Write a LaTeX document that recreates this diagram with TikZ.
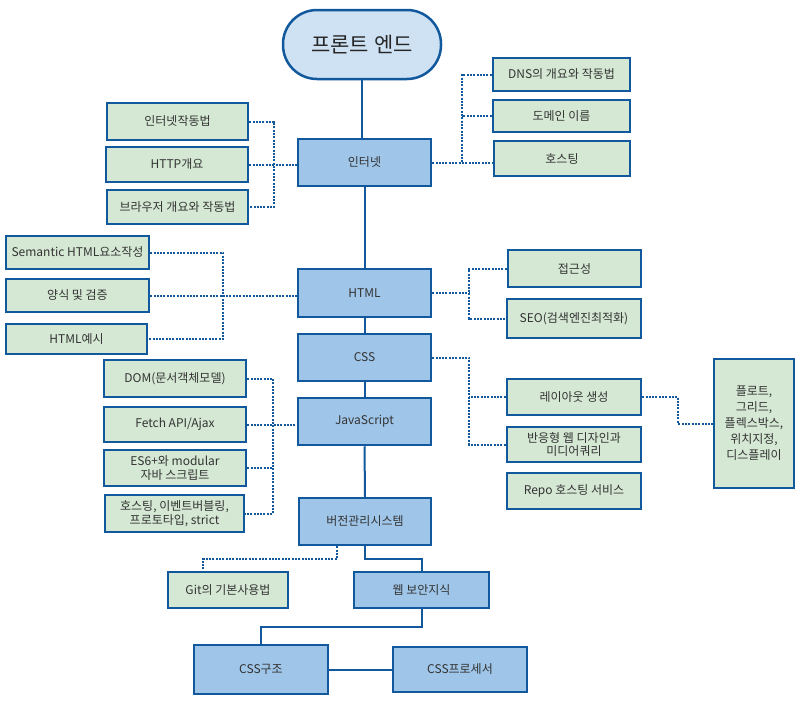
\documentclass[tikz,border=0pt]{standalone}
\usepackage{fontspec}
\setmainfont{Noto Sans CJK KR}
\definecolor{bstroke}{HTML}{11589C}
\definecolor{gfill}{HTML}{D5E8D4}
\definecolor{bfill}{HTML}{9FC5E8}
\definecolor{tfill}{HTML}{CFE2F3}
\definecolor{txt}{HTML}{333333}
\tikzset{
  box/.style={draw=bstroke, line width=2.5pt, text=txt, font=\fontsize{12}{13.5}\selectfont, align=center, inner sep=0pt},
  gbox/.style={box, fill=gfill},
  bbox/.style={box, fill=bfill},
  conn/.style={draw=bstroke, line width=2pt},
  dotc/.style={draw=bstroke, line width=2pt, dash pattern=on 2pt off 1.3pt},
}
\begin{document}
\begin{tikzpicture}[x=1pt,y=-1pt]
\useasboundingbox[fill=white] (0,0) rectangle (806,707);
% title
\node[box, fill=tfill, minimum width=158pt, minimum height=69pt, rounded corners=34pt, font=\fontsize{21}{24}\selectfont, text=black!85] (title) at (362,44.5) {프론트 엔드};
% main column
\node[bbox, minimum width=133pt, minimum height=47pt] (inet) at (364.5,162.5) {인터넷};
\node[bbox, minimum width=133pt, minimum height=48pt] (html) at (364.5,293) {HTML};
\node[bbox, minimum width=133pt, minimum height=47pt] (css) at (364.5,357.5) {CSS};
\node[bbox, minimum width=133pt, minimum height=47pt] (js) at (364.5,421.5) {JavaScript};
\node[bbox, minimum width=132pt, minimum height=47pt] (vcs) at (365,521.5) {버전관리시스템};
\node[bbox, minimum width=135pt, minimum height=36pt] (sec) at (421.5,590) {웹 보안지식};
\node[bbox, minimum width=134pt, minimum height=49pt] (cstr) at (261,669.5) {CSS구조};
\node[bbox, minimum width=134pt, minimum height=45pt] (cproc) at (460,669.5) {CSS프로세서};
% internet right
\node[gbox, minimum width=137pt, minimum height=33pt] (dns) at (561.5,74.5) {DNS의 개요와 작동법};
\node[gbox, minimum width=137pt, minimum height=32pt] (domain) at (561.5,116) {도메인 이름};
\node[gbox, minimum width=136pt, minimum height=35pt] (host) at (562,158.5) {호스팅};
% internet left
\node[gbox, minimum width=141pt, minimum height=37pt] (iw) at (177.5,121.5) {인터넷작동법};
\node[gbox, minimum width=142pt, minimum height=35pt] (http) at (177,164.5) {HTTP개요};
\node[gbox, minimum width=141pt, minimum height=34pt] (brw) at (177.5,207) {브라우저 개요와 작동법};
% html left
\node[gbox, minimum width=143pt, minimum height=33pt] (sem) at (77.5,252.5) {Semantic HTML요소작성};
\node[gbox, minimum width=143pt, minimum height=33pt] (form) at (77.5,295.5) {양식 및 검증};
\node[gbox, minimum width=141pt, minimum height=30pt] (hex) at (76.5,339) {HTML예시};
% html right
\node[gbox, minimum width=133pt, minimum height=37pt] (acc) at (574.5,268.5) {접근성};
\node[gbox, minimum width=134pt, minimum height=39pt] (seo) at (574,318.5) {SEO(검색엔진최적화)};
% css right
\node[gbox, minimum width=134pt, minimum height=36pt] (lay) at (574,397) {레이아웃 생성};
\node[gbox, minimum width=134pt, minimum height=35pt] (resp) at (574,444.5) {반응형 웹 디자인과\\미디어쿼리};
\node[gbox, minimum width=134pt, minimum height=36pt] (repo) at (574,491) {Repo 호스팅 서비스};
\node[gbox, minimum width=80pt, minimum height=129pt, font=\fontsize{12}{16}\selectfont] (flo) at (754,423.5) {플로트,\\그리드,\\플렉스박스,\\위치지정,\\디스플레이};
% js left
\node[gbox, minimum width=142pt, minimum height=37pt] (dom) at (175,378.5) {DOM(문서객체모델)};
\node[gbox, minimum width=142pt, minimum height=35pt] (fetch) at (175,424.5) {Fetch API/Ajax};
\node[gbox, minimum width=142pt, minimum height=36pt] (es6) at (175,468) {ES6+와 modular\\자바 스크립트};
\node[gbox, minimum width=139pt, minimum height=37pt] (jh) at (174.5,513.5) {호스팅, 이벤트버블링,\\프로토타입, strict};
% git
\node[gbox, minimum width=120pt, minimum height=36pt] (git) at (228,590) {Git의 기본사용법};

% trunk coordinates
\coordinate (t1) at (462,0);
\coordinate (t2) at (274,0);
\coordinate (t3) at (223,0);
\coordinate (t4) at (469,0);
\coordinate (t5) at (273,0);
\coordinate (t6) at (678,0);

% solid connectors
\draw[conn] (title.south) -- (title.south |- inet.north);
\draw[conn] (inet.south) -- (html.north);
\draw[conn] (html.south) -- (css.north);
\draw[conn] (css.south) -- (js.north);
\draw[conn] (js.south) -- (vcs.north);
\coordinate (v1) at (365,559);
\draw[conn] (vcs.south -| v1) -- (v1) -| (sec.north);
\coordinate (v2) at (261,627);
\draw[conn] (sec.south) |- (v2) -- (cstr.north);
\draw[conn] (cstr.east) -- (cstr.east -| cproc.west);

% dotted: internet right
\draw[dotc] (dns.west) -- (dns.west -| t1) -- (inet.east -| t1);
\draw[dotc] (domain.west) -- (domain.west -| t1);
\draw[dotc] (inet.east) -- (inet.east -| host.west);
% dotted: internet left
\draw[dotc] (iw.east) -- (iw.east -| t2) -- (brw.east -| t2) -- (brw.east);
\draw[dotc] (http.east) -- (http.east -| inet.west);
% dotted: html left
\draw[dotc] (sem.east) -- (sem.east -| t3) -- (hex.east -| t3) -- (hex.east);
\draw[dotc] (form.east) -- (form.east -| html.west);
% dotted: html right
\draw[dotc] (html.east) -- (html.east -| t4);
\draw[dotc] (acc.west) -- (acc.west -| t4) -- (seo.west -| t4) -- (seo.west);
% dotted: css right
\draw[dotc] (css.east) -- (css.east -| t4) -- (resp.west -| t4) -- (resp.west);
\draw[dotc] (lay.west) -- (lay.west -| t4);
\draw[dotc] (lay.east) -- (lay.east -| t6) -- (flo.west -| t6) -- (flo.west);
% dotted: js left
\draw[dotc] (dom.east) -- (dom.east -| t5) -- (jh.east -| t5) -- (jh.east);
\draw[dotc] (fetch.east) -- (fetch.east -| js.west);
\draw[dotc] (es6.east) -- (es6.east -| t5);
% dotted: git
\coordinate (g1) at (337,559);
\coordinate (g2) at (203,559);
\draw[dotc] (vcs.south -| g1) -- (g1) -- (g2) -- (g2 |- git.north);
\end{tikzpicture}
\end{document}
